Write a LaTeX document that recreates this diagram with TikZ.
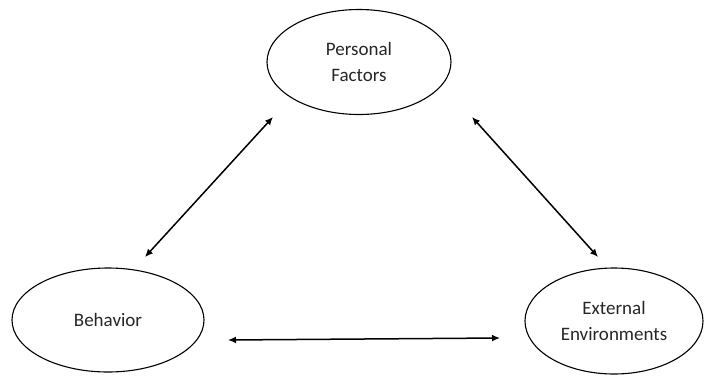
\documentclass[tikz,border=0pt]{standalone}
\usepackage{fontspec}
\setmainfont{Carlito}
\usetikzlibrary{shapes.geometric,arrows.meta}
\tikzset{
  ell/.style={ellipse, draw=black, line width=1.1pt, inner sep=0pt, align=center, font=\fontsize{19}{26}\selectfont, text=black!85},
  link/.style={line width=1.5pt, {Latex[length=8pt,width=7pt]}-{Latex[length=8pt,width=7pt]}}
}
\begin{document}
\begin{tikzpicture}[x=1pt,y=-1pt]
\useasboundingbox (0,0) rectangle (704,375);
\node[ell, minimum width=184pt, minimum height=105pt] (pf) at (359,62) {Personal\\Factors};
\node[ell, minimum width=192pt, minimum height=104pt] (bh) at (108,320) {Behavior};
\node[ell, minimum width=178pt, minimum height=106pt] (ee) at (614,321) {External\\Environments};
\coordinate (a1) at (273,117);
\coordinate (b1) at (145,257);
\coordinate (a2) at (472,117);
\coordinate (b2) at (598,257);
\coordinate (a3) at (228,340);
\coordinate (b3) at (500,338);
\draw[link] (a1) -- (b1);
\draw[link] (a2) -- (b2);
\draw[link] (a3) -- (b3);
\end{tikzpicture}
\end{document}
